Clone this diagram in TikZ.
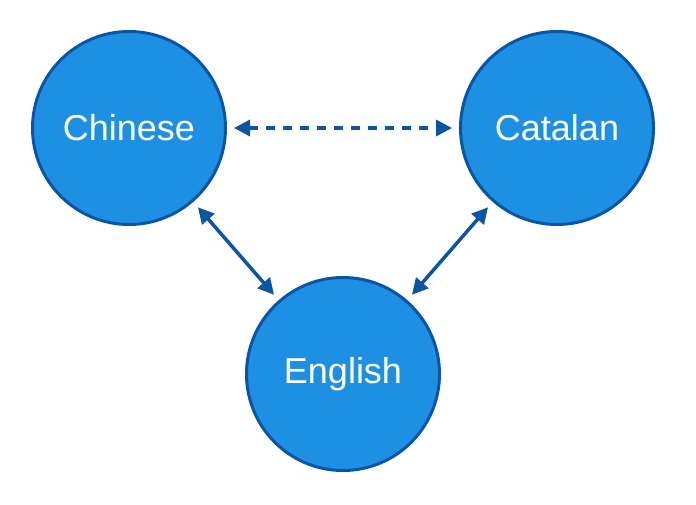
\documentclass[tikz,border=0pt]{standalone}
\usepackage{fontspec}
\setmainfont{Liberation Sans}
\usepackage{tikz}
\usetikzlibrary{arrows.meta,positioning}

\definecolor{langfill}{RGB}{30,144,228}
\definecolor{langline}{RGB}{11,85,166}

\begin{document}
\begin{tikzpicture}[x=1pt,y=1pt,
  lang/.style={circle,draw=langline,fill=langfill,line width=3pt,minimum size=193pt,inner sep=0pt,text=white,font=\fontsize{36}{40}\selectfont},
  link/.style={draw=langline,line width=3.5pt,shorten >=7pt,shorten <=7pt,{Triangle[length=16pt,width=16pt]}-{Triangle[length=16pt,width=16pt]}}]
\useasboundingbox (0,0) rectangle (696,-504);
\node[lang] (zh) at (129,-128) {Chinese};
\node[lang] (ca) [right=428pt of zh.center,anchor=center] {Catalan};
\node[lang] (en) at (343,-374) {English};

\draw[link,dash pattern=on 9pt off 8pt] (zh) -- (ca);
\draw[link] (zh) -- (en);
\draw[link] (ca) -- (en);
\end{tikzpicture}
\end{document}
